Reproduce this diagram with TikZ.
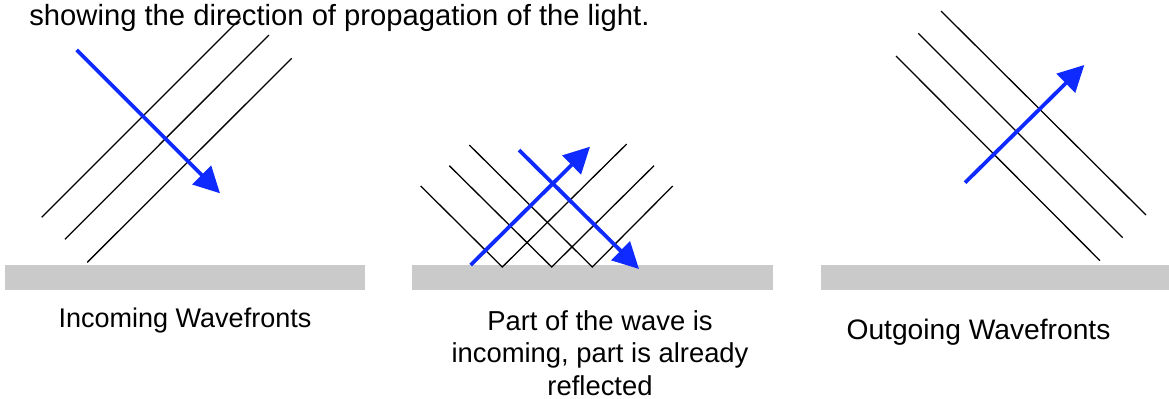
\documentclass[tikz,border=0pt]{standalone}
\usepackage{fontspec}
\setmainfont{Liberation Sans}
\usepackage{xcolor}
\usepackage{tikz}
\usetikzlibrary{arrows.meta}
\definecolor{azul}{RGB}{14,42,255}
\definecolor{cinza}{RGB}{202,202,202}
\tikzset{
  frente/.style={draw=black, line width=0.65pt},
  raio/.style={draw=azul, line width=1.9pt, -{Triangle[length=13pt, width=13pt]}},
  espelho/.style={fill=cinza, draw=none},
  legenda/.style={inner sep=0pt, align=center, font=\fontsize{#1}{16.25}\selectfont},
  legenda/.default=13.5,
}

\begin{document}
\begin{tikzpicture}[x=0.5pt, y=-0.5pt]
  \useasboundingbox (0,0) rectangle (1169,398);

  \node[legenda=14.6, anchor=base west] (titulo) at (29,25) {showing the direction of propagation of the light.};

  % incoming
  \fill[espelho] (5,265) rectangle (365,290);
  \draw[frente] (41.7,217.3) -- (240.7,18.3);
  \draw[frente] (65,239.3) -- (269,35);
  \draw[frente] (87.3,262.3) -- (291.7,58.3);
  \draw[raio] (76.7,50) -- (220,193.3);
  \node[legenda, anchor=base] (leg1) at (185,327) {Incoming Wavefronts};

  % reflecting
  \fill[espelho] (412,265) rectangle (773,290);
  \draw[frente] (420.7,186) -- (502.3,267) -- (626.7,144);
  \draw[frente] (449.3,165.7) -- (551.7,267) -- (654,165.7);
  \draw[frente] (469.3,145) -- (592.3,267) -- (672.7,186);
  \draw[raio] (470.7,265) -- (590,146.7);
  \draw[raio] (519,150) -- (639,269);
  \node[legenda=13.7, anchor=base] (leg2) at (600,395) {Part of the wave is\\incoming, part is already\\reflected};

  % outgoing
  \fill[espelho] (821,265) rectangle (1169,290);
  \draw[frente] (896,56) -- (1100,260.7);
  \draw[frente] (918.3,33.3) -- (1122.7,237.7);
  \draw[frente] (941,11) -- (1146,215);
  \draw[raio] (965,182.7) -- (1084.3,65);
  \node[legenda=14.1, anchor=base] (leg3) at (978.5,339) {Outgoing Wavefronts};
\end{tikzpicture}
\end{document}
